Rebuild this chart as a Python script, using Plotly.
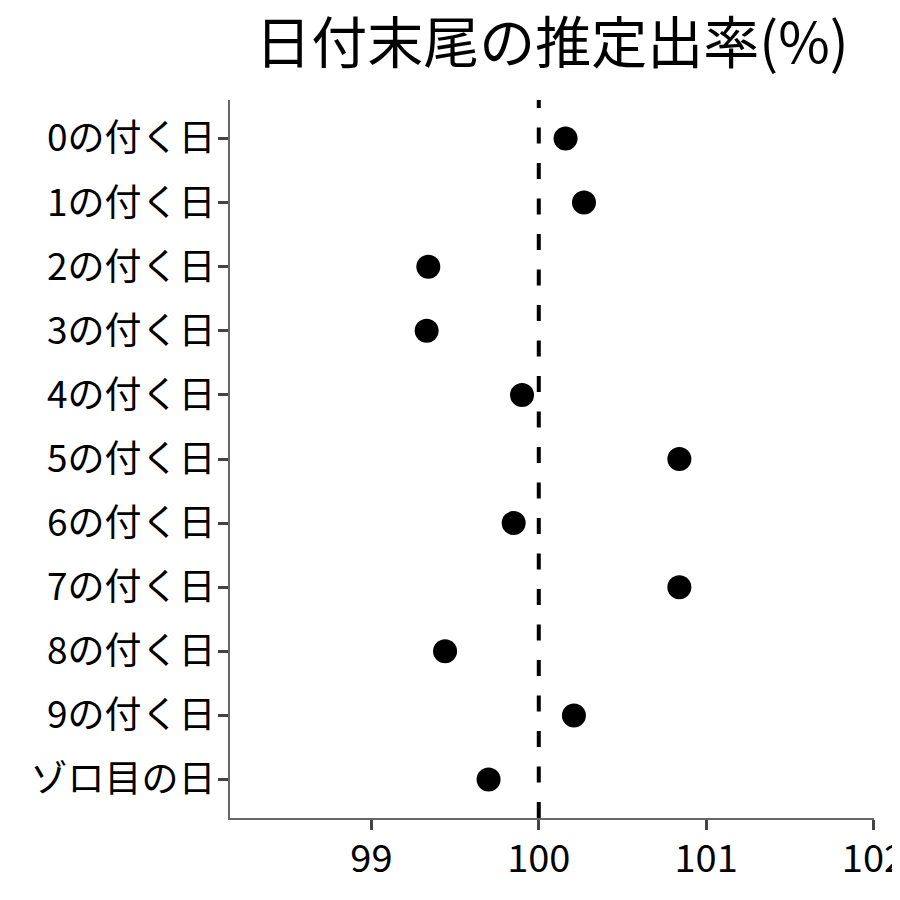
import plotly.graph_objects as go

categories = ["0の付く日", "1の付く日", "2の付く日", "3の付く日", "4の付く日",
              "5の付く日", "6の付く日", "7の付く日", "8の付く日", "9の付く日", "ゾロ目の日"]
values = [100.16, 100.27, 99.34, 99.33, 99.90, 100.84, 99.85, 100.84, 99.44, 100.21, 99.70]
x_ticks = [99, 100, 101, 102]
reference = 100

FONT = "Noto Sans CJK JP"

fig = go.Figure()
fig.add_trace(go.Scatter(
    x=values, y=categories, mode="markers",
    marker=dict(color="black", size=24),
    showlegend=False, cliponaxis=False,
))
fig.add_shape(type="line", x0=reference, x1=reference, xref="x", y0=0, y1=1, yref="paper",
              line=dict(color="black", width=4, dash="16px,19.5px"))

fig.update_layout(
    width=900, height=900,
    paper_bgcolor="white", plot_bgcolor="white",
    margin=dict(l=222, r=34, t=92, b=90),
    title=dict(text="日付末尾の推定出率(%)", x=0.5, xanchor="center", xref="paper",
               y=0.961, yanchor="middle",
               font=dict(family=FONT, size=56, color="black")),
    font=dict(family=FONT, color="black"),
)
fig.update_xaxes(
    range=[98.155, 102.003], tickvals=x_ticks, ticktext=[str(t) for t in x_ticks],
    automargin=False,
    showgrid=False, zeroline=False, showline=True, linecolor="#666666", linewidth=2,
    ticks="outside", ticklen=10, tickwidth=3, tickcolor="#444444",
    ticklabelstandoff=-4,
    tickfont=dict(family=FONT, size=38, color="black"),
)
fig.update_yaxes(
    categoryorder="array", categoryarray=categories, autorange=False, range=[10.6, -0.6],
    automargin=False,
    showgrid=False, zeroline=False, showline=True, linecolor="#666666", linewidth=2,
    ticks="outside", ticklen=10, tickwidth=3, tickcolor="#444444",
    ticklabelstandoff=-5,
    tickfont=dict(family=FONT, size=37, color="black"),
)

fig.write_html("out.html")
